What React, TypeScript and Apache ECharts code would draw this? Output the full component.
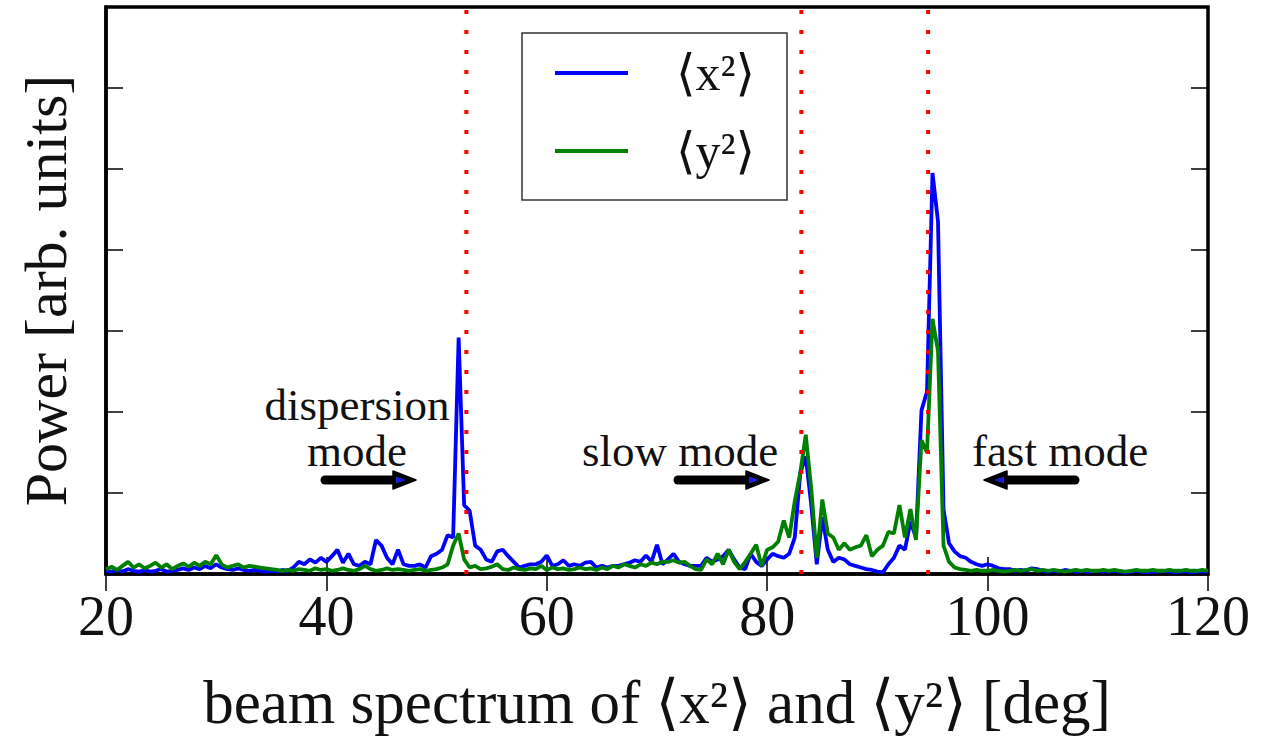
import { useEffect, useRef } from 'react';
import * as echarts from 'echarts';

// x grid of the spectrum samples (deg)
const X_START = 20;
const X_STEP = 0.5;
const xTicks = [20, 40, 60, 80, 100, 120];

// <x^2> power, one value per 0.5 deg from 20 to 120
const powerX2 = [
  0.04, 0.03, 0.05, 0.03, 0.06, 0.04, 0.03, 0.05, 0.03, 0.04,
  0.06, 0.03, 0.04, 0.05, 0.07, 0.05, 0.08, 0.06, 0.1, 0.07,
  0.12, 0.08, 0.06, 0.05, 0.07, 0.05, 0.04, 0.05, 0.04, 0.03,
  0.04, 0.03, 0.05, 0.04, 0.08, 0.15, 0.12, 0.18, 0.14, 0.2,
  0.15, 0.22, 0.3, 0.14, 0.25, 0.12, 0.1, 0.15, 0.12, 0.42,
  0.35, 0.2, 0.12, 0.3, 0.12, 0.1, 0.1, 0.12, 0.08, 0.22,
  0.25, 0.3, 0.48, 0.45, 2.92, 0.85, 0.78, 0.35, 0.3, 0.18,
  0.15, 0.28, 0.3, 0.22, 0.15, 0.08, 0.1, 0.12, 0.12, 0.15,
  0.23, 0.1, 0.12, 0.17, 0.1, 0.12, 0.1, 0.14, 0.15, 0.08,
  0.1, 0.08, 0.1, 0.1, 0.12, 0.14, 0.17, 0.15, 0.23, 0.15,
  0.36, 0.12, 0.18, 0.25, 0.15, 0.12, 0.1, 0.1, 0.1, 0.2,
  0.15, 0.18, 0.22, 0.3, 0.18, 0.08, 0.06, 0.25, 0.15, 0.1,
  0.18, 0.25, 0.22, 0.2, 0.25, 0.45, 1.25, 1.45, 0.85, 0.12,
  0.7, 0.3, 0.15, 0.2, 0.18, 0.12, 0.1, 0.08, 0.06, 0.05,
  0.03, 0.02, 0.12, 0.2, 0.35, 0.3, 0.65, 0.45, 2.02, 2.25,
  4.95, 4.35, 0.8, 0.38, 0.28, 0.22, 0.2, 0.15, 0.12, 0.1,
  0.12, 0.1, 0.07, 0.06, 0.06, 0.04, 0.05, 0.04, 0.07, 0.06,
  0.04, 0.03, 0.04, 0.03, 0.05, 0.04, 0.03, 0.04, 0.03, 0.03,
  0.04, 0.03, 0.03, 0.04, 0.03, 0.02, 0.03, 0.04, 0.03, 0.02,
  0.03, 0.03, 0.04, 0.03, 0.02, 0.03, 0.03, 0.02, 0.03, 0.03,
  0.03,
];

// <y^2> power, one value per 0.5 deg from 20 to 120
const powerY2 = [
  0.06, 0.09, 0.05, 0.1, 0.15, 0.08, 0.12, 0.07, 0.1, 0.14,
  0.08, 0.12, 0.06, 0.1, 0.13, 0.09, 0.14, 0.1, 0.15, 0.12,
  0.23, 0.12, 0.08, 0.1, 0.12, 0.08, 0.1, 0.09, 0.08, 0.07,
  0.06, 0.05, 0.04, 0.05, 0.04, 0.06, 0.05, 0.04, 0.07, 0.05,
  0.06, 0.04, 0.05, 0.07, 0.05, 0.04, 0.06, 0.1, 0.06, 0.04,
  0.05, 0.07, 0.05, 0.06, 0.05, 0.04, 0.05, 0.06, 0.04, 0.05,
  0.06, 0.08, 0.12, 0.35, 0.5, 0.18, 0.08, 0.1, 0.06, 0.07,
  0.09, 0.12, 0.06, 0.05, 0.08, 0.06, 0.05, 0.07, 0.06, 0.1,
  0.05, 0.08, 0.06, 0.07, 0.05, 0.06, 0.08, 0.06, 0.07, 0.05,
  0.08, 0.06, 0.1, 0.08, 0.12, 0.1, 0.08, 0.12, 0.1, 0.14,
  0.12, 0.15, 0.15, 0.17, 0.14, 0.15, 0.1, 0.06, 0.05, 0.18,
  0.12, 0.25, 0.12, 0.3, 0.15, 0.06, 0.15, 0.25, 0.36, 0.1,
  0.3, 0.33, 0.4, 0.66, 0.45, 0.9, 1.25, 1.72, 1.05, 0.2,
  0.92, 0.5, 0.45, 0.3, 0.38, 0.3, 0.33, 0.35, 0.48, 0.22,
  0.3, 0.35, 0.52, 0.5, 0.85, 0.45, 0.8, 0.42, 1.65, 1.5,
  3.15, 2.75, 0.35, 0.15, 0.08, 0.06, 0.05, 0.04, 0.05, 0.04,
  0.04, 0.05, 0.04, 0.03, 0.04, 0.05, 0.04, 0.05, 0.06, 0.04,
  0.05, 0.04, 0.05, 0.04, 0.03, 0.04, 0.05, 0.04, 0.05, 0.04,
  0.04, 0.05, 0.04, 0.05, 0.04, 0.03, 0.04, 0.05, 0.04, 0.04,
  0.05, 0.04, 0.04, 0.05, 0.04, 0.04, 0.05, 0.04, 0.04, 0.05,
  0.04,
];

// mode frequencies (red dotted lines), deg
const modeLines = [52.7, 83.1, 94.6];
const seriesNames = ['⟨x²⟩', '⟨y²⟩'];
const annotationLabels = ['dispersion', 'mode', 'slow mode', 'fast mode'];

const FONT = "'Liberation Serif', 'DejaVu Serif', serif";

function arrow(x0: number, x1: number, y: number) {
  // x0 = tail, x1 = tip
  const dir = x1 > x0 ? 1 : -1;
  const headLen = 23;
  const headHalf = 9;
  const base = x1 - dir * headLen;
  return [
    {
      type: 'line',
      shape: { x1: x0, y1: y, x2: base + dir * 2, y2: y },
      style: { stroke: '#000', lineWidth: 9, lineCap: 'round' },
      z: 100,
    },
    {
      type: 'polygon',
      shape: { points: [[base, y - headHalf], [x1, y], [base, y + headHalf]] },
      style: { fill: '#000', stroke: '#000', lineWidth: 1.5, lineJoin: 'round' },
      z: 101,
    },
    {
      type: 'polygon',
      shape: { points: [[base + dir * 3, y - 3.5], [base + dir * 13, y], [base + dir * 3, y + 3.5]] },
      style: { fill: '#1f1fe0' },
      z: 102,
    },
  ];
}

export default function App() {
  const ref = useRef<HTMLDivElement>(null);
  useEffect(() => {
    document.body.style.margin = '0';
    const chart = echarts.init(ref.current!, null, { renderer: 'svg' });
    const toPairs = (arr: number[]) => arr.map((v, i) => [X_START + i * X_STEP, v]);

    const txt = (s: string, x: number, y: number) => ({
      type: 'text',
      x,
      y,
      z: 100,
      style: {
        text: s,
        fontFamily: FONT,
        fontSize: 45,
        fill: '#111',
        align: 'center',
        verticalAlign: 'middle',
      },
    });

    chart.setOption({
      animation: false,
      backgroundColor: '#fff',
      grid: {
        left: 106,
        right: 63,
        top: 7,
        bottom: 161,
        show: true,
        borderColor: '#000',
        borderWidth: 3.5,
        backgroundColor: 'transparent',
      },
      legend: {
        data: seriesNames,
        orient: 'vertical',
        left: 522,
        top: 33,
        padding: [15, 32, 24, 33],
        itemGap: 28,
        itemWidth: 73,
        itemHeight: 4,
        icon: 'rect',
        backgroundColor: '#fff',
        borderColor: '#333',
        borderWidth: 1.5,
        borderRadius: 0,
        selectedMode: false,
        textStyle: {
          fontFamily: FONT,
          fontSize: 50,
          color: '#111',
          padding: [0, 0, 0, 43],
        },
      },
      xAxis: [
        {
          type: 'value',
          min: xTicks[0],
          max: xTicks[xTicks.length - 1],
          interval: 20,
          position: 'bottom',
          axisLine: { show: true, onZero: false, lineStyle: { color: '#000', width: 3.5 } },
          axisTick: { show: true, inside: true, length: 17, lineStyle: { color: '#000', width: 1.5 } },
          axisLabel: { fontFamily: FONT, fontSize: 56, color: '#111', margin: 14 },
          splitLine: { show: false },
          name: 'beam spectrum of ⟨x²⟩ and ⟨y²⟩ [deg]',
          nameLocation: 'middle',
          nameGap: 98,
          nameTextStyle: { fontFamily: FONT, fontSize: 61, color: '#111' },
        },
        {
          type: 'value',
          min: xTicks[0],
          max: xTicks[xTicks.length - 1],
          interval: 20,
          position: 'top',
          axisLine: { show: false },
          axisTick: { show: true, inside: true, length: 17, lineStyle: { color: '#000', width: 1.5 } },
          axisLabel: { show: false },
          splitLine: { show: false },
        },
      ],
      yAxis: [
        {
          type: 'value',
          min: 0,
          max: 7,
          interval: 1,
          axisLine: { show: true, onZero: false, lineStyle: { color: '#000', width: 3.5 } },
          axisTick: { show: true, inside: true, length: 17, lineStyle: { color: '#000', width: 1.5 } },
          axisLabel: { show: false },
          splitLine: { show: false },
          name: 'Power [arb. units]',
          nameLocation: 'middle',
          nameGap: 30,
          nameTextStyle: { fontFamily: FONT, fontSize: 60, color: '#111' },
        },
        {
          type: 'value',
          min: 0,
          max: 7,
          interval: 1,
          position: 'right',
          axisLine: { show: false },
          axisTick: { show: true, inside: true, length: 17, lineStyle: { color: '#000', width: 1.5 } },
          axisLabel: { show: false },
          splitLine: { show: false },
        },
      ],
      series: [
        {
          name: seriesNames[0],
          type: 'line',
          data: toPairs(powerX2),
          showSymbol: false,
          symbol: 'none',
          color: '#0000ff',
          lineStyle: { color: '#0000ff', width: 3.8 },
          z: 2,
        },
        {
          name: seriesNames[1],
          type: 'line',
          data: toPairs(powerY2),
          showSymbol: false,
          symbol: 'none',
          color: '#008000',
          lineStyle: { color: '#008000', width: 3.8 },
          z: 3,
        },
        ...modeLines.map((v) => ({
          name: 'mode ' + v,
          type: 'line',
          data: [[v, 0], [v, 7]],
          showSymbol: false,
          symbol: 'none',
          silent: true,
          lineStyle: { color: '#ff0000', width: 4, type: [4, 16] },
          z: 4,
        })),
      ],
      graphic: [
        txt(annotationLabels[0], 357, 405),
        txt(annotationLabels[1], 357, 451),
        txt(annotationLabels[2], 680, 451),
        txt(annotationLabels[3], 1060, 451),
        ...arrow(325, 416, 480),
        ...arrow(678, 769, 480),
        ...arrow(1075, 984, 480),
      ],
    });
    return () => chart.dispose();
  }, []);
  return <div ref={ref} style={{ width: 1271, height: 738 }} />;
}
